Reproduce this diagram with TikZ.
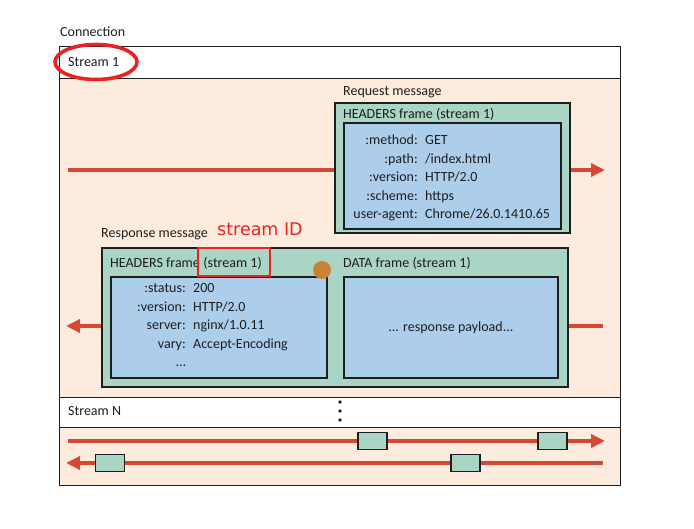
\documentclass[tikz,border=0pt]{standalone}
\usepackage{fontspec}
\setmainfont{Carlito}
\newfontfamily\idfont{DejaVu Sans}
\usetikzlibrary{arrows.meta,positioning,shapes.geometric}
\definecolor{inkgrey}{RGB}{30,30,30}
\definecolor{peachbg}{RGB}{253,236,222}
\definecolor{framegreen}{RGB}{170,212,196}
\definecolor{fieldblue}{RGB}{173,206,235}
\definecolor{flowred}{RGB}{214,72,52}
\definecolor{markred}{RGB}{236,34,34}
\definecolor{dotbrown}{RGB}{200,130,52}
\tikzset{
  base/.style={font=\fontsize{14}{16}\selectfont, text=inkgrey, inner sep=0pt},
  lbl/.style={base, anchor=base west},
  row/.style={rectangle, draw=inkgrey, fill=white, line width=1.3pt, anchor=north west, inner sep=0pt},
  zone/.style={rectangle, draw=inkgrey, fill=peachbg, line width=1.3pt, anchor=north west, inner sep=0pt},
  frm/.style={rectangle, draw=inkgrey, fill=framegreen, line width=1.8pt, anchor=north west, inner sep=0pt},
  fld/.style={rectangle, draw=inkgrey, fill=fieldblue, line width=1.8pt, anchor=north west, inner sep=0pt},
  chip/.style={rectangle, draw=inkgrey, fill=framegreen, line width=1.8pt, minimum width=29pt, minimum height=17pt, inner sep=0pt},
  flow/.style={draw=flowred, line width=3.4pt},
  flowto/.style={flow, -{Triangle[length=14pt,width=13pt]}},
  idbox/.style={draw=markred, line width=1.6pt},
}
\begin{document}
\begin{tikzpicture}[x=1pt,y=-1pt]
  \useasboundingbox (0,0) rectangle (694,529);
  % connection and its streams
  \node[lbl] (conntitle) at (60,37) {Connection};
  \node[zone, minimum width=561pt, minimum height=439pt] (conn) at (59,46) {};
  \node[row, minimum width=561pt, minimum height=32pt] (s1row) at (59,46) {};
  \node[lbl] (s1) at (68,67) {Stream 1};
  \node[row, minimum width=561pt, minimum height=30pt] (snrow) at (59,397) {};
  \node[lbl] (sn) at (68,416) {Stream N};
  \foreach \i in {0,1,2}{\fill[inkgrey] (340,{402+9*\i}) circle (1.9);}
  \node[ellipse, draw=markred, line width=3.6pt, minimum width=82pt, minimum height=35pt] (s1ring) at (96,62) {};

  % request message
  \node[lbl] (reqtitle) at (343,96) {Request message};
  \node[frm, minimum width=235pt, minimum height=130pt] (reqframe) at (334,102) {};
  \node[lbl] (reqhead) at (343,119) {HEADERS frame (stream 1)};
  \node[fld, minimum width=217pt, minimum height=106pt] (reqfields) at (343,122) {};
  \foreach \i/\k/\v in {0/:method:/GET,1/:path:/{/index.html},2/:version:/{HTTP/2.0},3/:scheme:/https,4/user-agent:/{Chrome/26.0.1410.65}}{
    \node[base, anchor=base east] (rk\i) at (418,{145+18.5*\i}) {\k};
    \node[base, anchor=base west] (rv\i) at (425,{145+18.5*\i}) {\v};
  }
  \coordinate (reqin) at (68,170);
  \coordinate (reqout) at (605,170);
  \draw[flow] (reqin) -- (reqin -| reqframe.west);
  \draw[flowto] (reqin -| reqframe.east) -- (reqout);

  % response message
  \node[lbl] (restitle) at (101,238) {Response message};
  \node[base, font=\idfont\fontsize{17.5}{20}\selectfont, text=markred, anchor=base west] (sid) at (217,236) {stream ID};
  \node[frm, minimum width=466pt, minimum height=139pt] (resframe) at (101,247) {};
  \node[lbl] (reshead) at (110,268) {HEADERS frame};
  \node[lbl] (resid) at (reshead.base east) {\ (stream 1)};
  \node[fld, minimum width=216pt, minimum height=101pt] (resfields) at (110,276) {};
  \node[lbl] (datahead) at (343,268) {DATA frame (stream 1)};
  \node[fld, minimum width=214pt, minimum height=101pt] (datafields) at (343,276) {};
  \node[base] (payload) at (datafields.center) {... response payload...};
  \foreach \i/\k/\v in {0/:status:/200,1/:version:/{HTTP/2.0},2/server:/{nginx/1.0.11},3/vary:/Accept-Encoding,4/{\dots}/{}}{
    \node[base, anchor=base east] (sk\i) at (186,{293+18.5*\i}) {\k};
    \node[base, anchor=base west] (sv\i) at (193,{293+18.5*\i}) {\v};
  }
  \draw[idbox] (198,248) rectangle (270,276);
  \node[circle, fill=dotbrown, minimum size=18pt, inner sep=0pt] (cursor) at (322,270) {};
  \coordinate (resout) at (66,326);
  \coordinate (resin) at (603,326);
  \draw[flow] (resin) -- (resin -| resframe.east);
  \draw[flowto] (resin -| resframe.west) -- (resout);

  % interleaved frames of other streams
  \coordinate (upl) at (68,441);
  \coordinate (upr) at (605,441);
  \coordinate (dnr) at (603,463);
  \coordinate (dnl) at (66,463);
  \draw[flowto] (upl) -- (upr);
  \draw[flowto] (dnr) -- (dnl);
  \node[chip] (up1) at (372.5,441) {};
  \node[chip] (up2) at (552.5,441) {};
  \node[chip] (dn1) at (110,463) {};
  \node[chip] (dn2) at (465.5,463) {};
\end{tikzpicture}
\end{document}
